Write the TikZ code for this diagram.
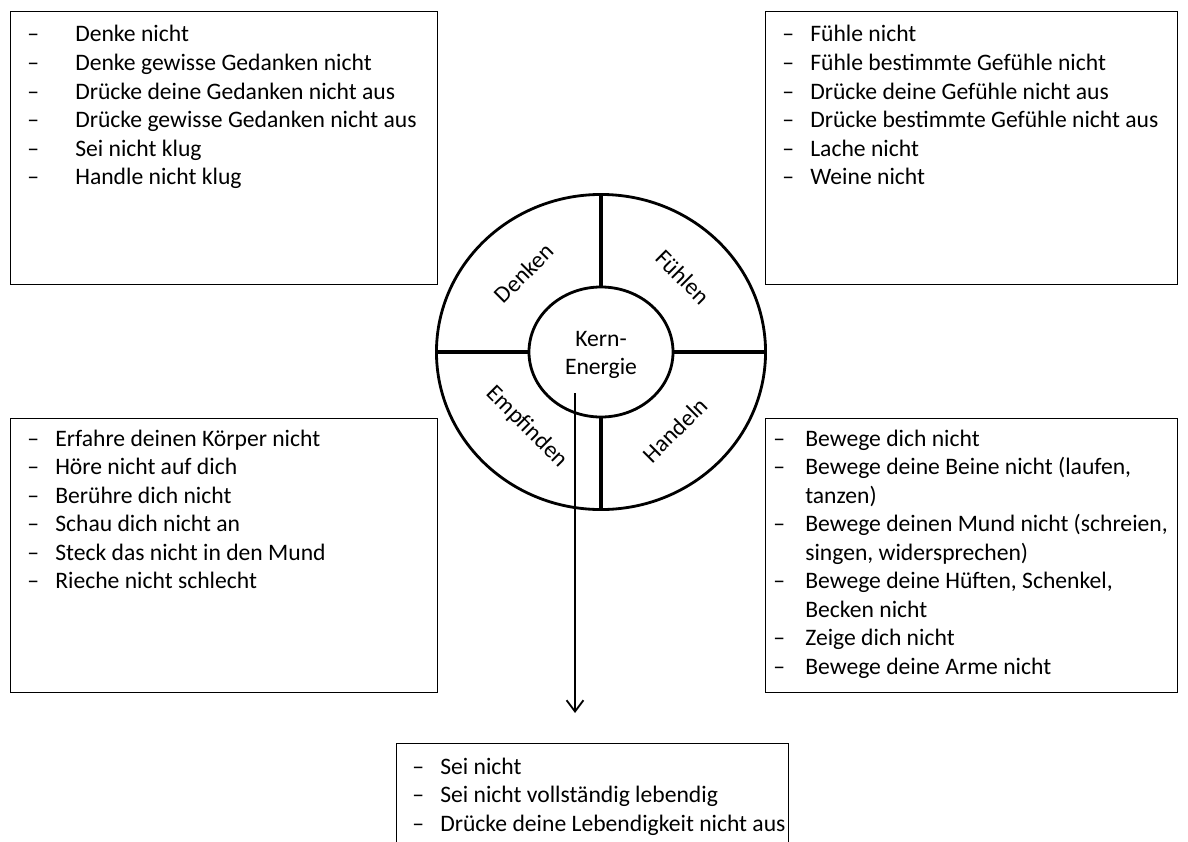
\documentclass[tikz,border=0pt]{standalone}
\usepackage{fontspec}
\setmainfont{Carlito}
\usetikzlibrary{arrows.meta,shapes.geometric}

\newcommand{\strich}{\textendash}

\begin{document}
\begin{tikzpicture}[x=0.025cm,y=-0.025cm,
    kasten/.style={draw,line width=0.9pt,anchor=north west,inner sep=0pt},
    liste/.style={anchor=base west,inner sep=0pt,%
        font=\fontsize{16.8pt}{20.3pt}\selectfont},
    ring/.style={draw,ellipse,line width=2pt,inner sep=0pt},
    trenner/.style={line width=2.8pt},
    sektor/.style={inner sep=1pt,font=\fontsize{16.8pt}{20.3pt}\selectfont}]
    \useasboundingbox (0,0) rectangle (1188,841);

    \node [kasten,minimum width=10.675cm,minimum height=6.825cm] (denkbox) at (10,11) {};
    \node [kasten,minimum width=10.3cm,minimum height=6.825cm] (fuehlbox) at (765,11) {};
    \node [kasten,minimum width=10.675cm,minimum height=6.85cm] (empfbox) at (10,418) {};
    \node [kasten,minimum width=10.3cm,minimum height=6.85cm] (handbox) at (765,418) {};
    \node [kasten,minimum width=9.8cm,minimum height=3cm] (seinbox) at (396,743) {};

    \node [liste] (denktext) at (27,42)%
        {\begin{tabular}[t]{@{}p{1.2cm}@{}l@{}}
        \strich & Denke nicht\\
        \strich & Denke gewisse Gedanken nicht\\
        \strich & Drücke deine Gedanken nicht aus\\
        \strich & Drücke gewisse Gedanken nicht aus\\
        \strich & Sei nicht klug\\
        \strich & Handle nicht klug
        \end{tabular}};

    \node [liste] (fuehltext) at (782,42)%
        {\begin{tabular}[t]{@{}p{0.7cm}@{}l@{}}
        \strich & Fühle nicht\\
        \strich & Fühle bestimmte Gefühle nicht\\
        \strich & Drücke deine Gefühle nicht aus\\
        \strich & Drücke bestimmte Gefühle nicht aus\\
        \strich & Lache nicht\\
        \strich & Weine nicht
        \end{tabular}};

    \node [liste] (empftext) at (27,446)%
        {\begin{tabular}[t]{@{}p{0.7cm}@{}l@{}}
        \strich & Erfahre deinen Körper nicht\\
        \strich & Höre nicht auf dich\\
        \strich & Berühre dich nicht\\
        \strich & Schau dich nicht an\\
        \strich & Steck das nicht in den Mund\\
        \strich & Rieche nicht schlecht
        \end{tabular}};

    \node [liste] (handtext) at (773,446)%
        {\begin{tabular}[t]{@{}p{0.8cm}@{}l@{}}
        \strich & Bewege dich nicht\\
        \strich & Bewege deine Beine nicht (laufen,\\
                & tanzen)\\
        \strich & Bewege deinen Mund nicht (schreien,\\
                & singen, widersprechen)\\
        \strich & Bewege deine Hüften, Schenkel,\\
                & Becken nicht\\
        \strich & Zeige dich nicht\\
        \strich & Bewege deine Arme nicht
        \end{tabular}};

    \node [liste] (seintext) at (412,774)%
        {\begin{tabular}[t]{@{}p{0.7cm}@{}l@{}}
        \strich & Sei nicht\\
        \strich & Sei nicht vollständig lebendig\\
        \strich & Drücke deine Lebendigkeit nicht aus
        \end{tabular}};

    \node [ring,minimum width=8.225cm,minimum height=7.875cm] (aussen) at (601,352) {};
    \node [ring,minimum width=3.6cm,minimum height=3.25cm] (kern) at (601,352) {};
    \node [sektor,align=center] (kerntext) at (601,355) {Kern-\\Energie};

    \draw [trenner] (aussen.north) -- (kern.north);
    \draw [trenner] (aussen.south) -- (kern.south);
    \draw [trenner] (aussen.west) -- (kern.west);
    \draw [trenner] (aussen.east) -- (kern.east);

    \node [sektor,rotate=45] (denken) at (524,273) {Denken};
    \node [sektor,rotate=-45] (fuehlen) at (683,277) {Fühlen};
    \node [sektor,rotate=-45] (empfinden) at (527,427) {Empfinden};
    \node [sektor,rotate=45] (handeln) at (675,430) {Handeln};

    \coordinate (kernpunkt) at (575,393);
    \draw [-{Straight Barb[length=8pt,width=12pt]},line width=1.3pt,shorten >=0.75cm]%
        (kernpunkt) -- (kernpunkt |- seinbox.north);
\end{tikzpicture}
\end{document}
